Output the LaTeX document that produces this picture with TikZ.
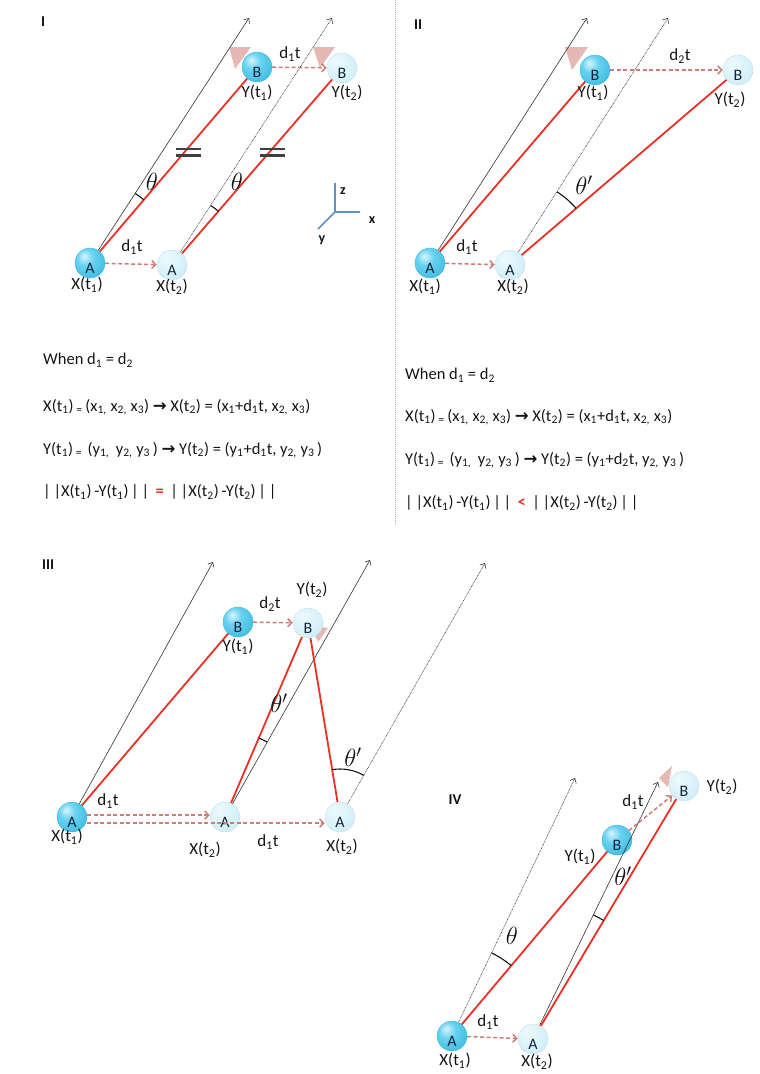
\documentclass[tikz,border=0pt]{standalone}
\usepackage{fontspec}
\setmainfont{Carlito}
\newfontfamily\djv{DejaVu Sans}
\usetikzlibrary{arrows.meta,angles}
\definecolor{redln}{RGB}{232,48,36}
\definecolor{dashpink}{RGB}{205,125,120}
\definecolor{tripink}{RGB}{226,172,166}
\definecolor{ballhi}{RGB}{215,245,252}
\definecolor{ballmid}{RGB}{105,210,240}
\definecolor{balledge}{RGB}{50,182,222}
\definecolor{balldark}{RGB}{28,145,190}
\definecolor{lbhi}{RGB}{238,250,253}
\definecolor{lbmid}{RGB}{205,237,248}
\definecolor{lbedge}{RGB}{180,225,242}
\definecolor{lbline}{RGB}{170,200,215}
\definecolor{axblue}{RGB}{95,145,195}
\definecolor{lettr}{RGB}{20,35,55}
\definecolor{txt}{RGB}{20,20,20}
\definecolor{arrowgray}{RGB}{50,50,50}
\pgfdeclareradialshading{solidball}{\pgfpoint{-10bp}{12bp}}{color(0bp)=(ballhi); color(14bp)=(ballmid); color(40bp)=(balledge); color(70bp)=(balldark)}
\pgfdeclareradialshading{lightball}{\pgfpoint{-10bp}{12bp}}{color(0bp)=(lbhi); color(35bp)=(lbmid); color(70bp)=(lbedge)}
\newcommand{\sbs}[1]{\textsubscript{#1}}
\newcommand{\rarr}{{\djv\bfseries →}}
\begin{document}
\begin{tikzpicture}[x=1pt,y=-1pt,
  solidb/.style={circle,minimum size=30pt,inner sep=0pt,shade,shading=solidball,draw=balledge,line width=0.3pt,
    label={[lettr lbl]center:#1}},
  lightb/.style={circle,minimum size=30pt,inner sep=0pt,shade,shading=lightball,draw=lbline,densely dotted,line width=0.5pt,
    label={[lettr lbl]center:#1}},
  lettr lbl/.style={yshift=-5pt,text=lettr,font=\fontsize{16}{16}\selectfont,inner sep=0pt},
  lbl/.style={text=txt,font=\fontsize{17}{19}\selectfont,inner sep=0pt},
  ptxt/.style={text=txt,font=\fontsize{16.5}{19}\selectfont,inner sep=0pt,anchor=west},
  plabel/.style={text=txt,font=\fontsize{15}{18}\selectfont\bfseries,inner sep=0pt},
  thlbl/.style={text=txt,font=\fontsize{24}{24}\selectfont,inner sep=0pt},
  redl/.style={draw=redln,line width=1.8pt},
  mvarrow/.style={draw=dashpink,line width=1.5pt,dash pattern=on 4pt off 2.5pt,-{Straight Barb[length=4pt,width=8pt]}},
  refarrow/.style={draw=arrowgray,line width=0.6pt,-{Straight Barb[length=4pt,width=7pt]}},
  refdot/.style={refarrow,dash pattern=on 0.8pt off 0.8pt},
  tri/.style={fill=tripink,opacity=0.85},
  ang/.style={draw=txt,line width=1.1pt},
  eqbar/.style={draw=black!75,line width=2.2pt},
  axis/.style={draw=axblue,line width=1.6pt},
  axlbl/.style={text=txt,font=\fontsize{14}{14}\selectfont\bfseries,inner sep=0pt}
]
\useasboundingbox (0,0) rectangle (760,1074);

% ---------------- separator
\coordinate (sepT) at (395,0);
\coordinate (sepB) at (395,525);
\draw[gray!60,line width=1pt,dash pattern=on 1pt off 1pt] (sepT) -- (sepB);

% ================= PANEL I
\node[plabel] (lI) at (43,22) {I};
\fill[tri] (229,47) -- (251,47) -- (235,69) -- cycle;
\fill[tri] (313,47) -- (335,47) -- (320,68) -- cycle;
\node[solidb=A] (a1) at (90,263) {};
\node[lightb=A] (a2) at (172,265) {};
\node[solidb=B] (b1) at (257,67) {};
\node[lightb=B] (b2) at (342,68) {};
\coordinate (ta) at (249,18);
\coordinate (tb) at (332,18);
\draw[refarrow] (a1) -- (ta);
\draw[refdot] (a2) -- (tb);
\draw[redl] (a1) -- (b1);
\draw[redl] (a2) -- (b2);
\draw[mvarrow] (a1) -- (a2);
\draw[mvarrow] (b1) -- (b2);
\node[lbl] (lxa1) at (87,285) {X(t\sbs{1})};
\node[lbl] (lxa2) at (172,287) {X(t\sbs{2})};
\node[lbl] (lyb1) at (257,93) {Y(t\sbs{1})};
\node[lbl] (lyb2) at (347,93) {Y(t\sbs{2})};
\node[lbl] (ld1) at (132,247) {d\sbs{1}t};
\node[lbl] (ld2) at (290,54) {d\sbs{1}t};
\pic[ang, angle radius=83pt] {angle=b1--a1--ta};
\pic[ang, angle radius=71pt] {angle=b2--a2--tb};
\node[thlbl] (th1) at (152,182) {$\theta$};
\node[thlbl] (th2) at (237,182) {$\theta$};
\draw[eqbar] (176,149) -- (201,149) (176,155.5) -- (201,155.5);
\draw[eqbar] (260,149) -- (285,149) (260,155.5) -- (285,155.5);
% axes
\coordinate (ao) at (335,212);
\coordinate (az) at (335,183);
\coordinate (ax) at (360,212);
\coordinate (ay) at (318,229);
\draw[axis] (az) -- (ao) -- (ax) (ao) -- (ay);
\node[axlbl] (lz) at (343,191) {z};
\node[axlbl] (lx) at (372,220) {x};
\node[axlbl] (ly) at (322,240) {y};

% ================= PANEL II
\node[plabel] (lII) at (418,25) {II};
\fill[tri] (565,47) -- (588,47) -- (572,70) -- cycle;
\node[solidb=A] (c1) at (430,263) {};
\node[lightb=A] (c2) at (510,265) {};
\node[solidb=B] (d1) at (595,70) {};
\node[lightb=B] (d2) at (738,70) {};
\coordinate (tc) at (587,18);
\coordinate (td) at (668,18);
\draw[refarrow] (c1) -- (tc);
\draw[refdot] (c2) -- (td);
\draw[redl] (c1) -- (d1);
\draw[redl] (c2) -- (d2);
\draw[mvarrow] (c1) -- (c2);
\draw[mvarrow] (d1) -- (d2);
\node[lbl] (lxc1) at (425,287) {X(t\sbs{1})};
\node[lbl] (lxc2) at (513,287) {X(t\sbs{2})};
\node[lbl] (lyd1) at (593,93) {Y(t\sbs{1})};
\node[lbl] (lyd2) at (730,100) {Y(t\sbs{2})};
\node[lbl] (ld3) at (467,247) {d\sbs{1}t};
\node[lbl] (ld4) at (680,56) {d\sbs{2}t};
\pic[ang, angle radius=87pt] {angle=d2--c2--td};
\node[thlbl] (th3) at (584,185) {$\theta'$};

% ================= TEXT BLOCKS
\node[ptxt] (t1) at (43,360) {When d\sbs{1} = d\sbs{2}};
\node[ptxt] (t2) at (43,407) {X(t\sbs{1})\,\textsubscript{=}\,(x\sbs{1,} x\sbs{2,} x\sbs{3}) \rarr{} X(t\sbs{2}) = (x\sbs{1}+d\sbs{1}t, x\sbs{2,} x\sbs{3})};
\node[ptxt] (t3) at (43,450) {Y(t\sbs{1})\,\textsubscript{=}\,\,(y\sbs{1,}\, y\sbs{2,} y\sbs{3}\,) \rarr{} Y(t\sbs{2}) = (y\sbs{1}+d\sbs{1}t, y\sbs{2,} y\sbs{3}\,)};
\node[ptxt] (t4) at (43,492) {|\,|X(t\sbs{1})\,-Y(t\sbs{1})\,|\,|\, \textcolor{redln}{\textbf{=}}\, |\,|X(t\sbs{2})\,-Y(t\sbs{2})\,|\,|};

\node[ptxt] (u1) at (405,375) {When d\sbs{1} = d\sbs{2}};
\node[ptxt] (u2) at (405,417) {X(t\sbs{1})\,\textsubscript{=}\,(x\sbs{1,} x\sbs{2,} x\sbs{3}) \rarr{} X(t\sbs{2}) = (x\sbs{1}+d\sbs{1}t, x\sbs{2,} x\sbs{3})};
\node[ptxt] (u3) at (405,460) {Y(t\sbs{1})\,\textsubscript{=}\,\,(y\sbs{1,}\, y\sbs{2,} y\sbs{3}\,) \rarr{} Y(t\sbs{2}) = (y\sbs{1}+d\sbs{2}t, y\sbs{2,} y\sbs{3}\,)};
\node[ptxt] (u4) at (405,503) {|\,|X(t\sbs{1})\,-Y(t\sbs{1})\,|\,|\, \textcolor{redln}{\textbf{<}}\, |\,|X(t\sbs{2})\,-Y(t\sbs{2})\,|\,|};

% ================= PANEL III
\node[plabel] (lIII) at (48,565) {III};
\fill[tri] (310,625) -- (328,628) -- (318,642) -- cycle;
\node[solidb=A] (e1) at (72,817) {};
\node[lightb=A] (e2) at (225,817) {};
\node[lightb=A] (e3) at (340,817) {};
\node[solidb=B] (f1) at (238,622) {};
\node[lightb=B] (f2) at (308,623) {};
\coordinate (te1) at (213,562);
\coordinate (te2) at (370,560);
\coordinate (te3) at (485,563);
\draw[refarrow] (e1) -- (te1);
\draw[refarrow] (e2) -- (te2);
\draw[refdot] (e3) -- (te3);
\draw[redl] (e1) -- (f1);
\draw[redl] (e2) -- (f2);
\draw[redl] (e3) -- (f2);
\draw[mvarrow] ([yshift=2pt]e1.east) -- ([yshift=2pt]e2.west);
\draw[mvarrow] ([yshift=-6pt]e1.east) -- ([yshift=-6pt]e3.west);
\draw[mvarrow] (f1) -- (f2);
\node[lbl] (lxe1) at (67,837) {X(t\sbs{1})};
\node[lbl] (lxe2) at (205,850) {X(t\sbs{2})};
\node[lbl] (lxe3) at (342,847) {X(t\sbs{2})};
\node[lbl] (lyf1) at (238,647) {Y(t\sbs{1})};
\node[lbl] (lyf2) at (312,590) {Y(t\sbs{2})};
\node[lbl] (ld5) at (108,801) {d\sbs{1}t};
\node[lbl] (ld6) at (268,842) {d\sbs{1}t};
\node[lbl] (ld7) at (270,604) {d\sbs{2}t};
\pic[ang, angle radius=86pt] {angle=te2--e2--f2};
\pic[ang, angle radius=48pt] {angle=te3--e3--f2};
\node[thlbl] (th4) at (279,703) {$\theta'$};
\node[thlbl] (th5) at (353,757) {$\theta'$};

% ================= PANEL IV
\node[plabel] (lIV) at (455,800) {IV};
\fill[tri] (659,778) -- (672,766) -- (668,787) -- cycle;
\node[solidb=A] (g1) at (452,1036) {};
\node[lightb=A] (g2) at (533,1039) {};
\node[solidb=B] (h1) at (617,840) {};
\node[lightb=B] (h2) at (684,786) {};
\coordinate (tg1) at (575,778);
\coordinate (tg2) at (658,782);
\draw[refdot] (g1) -- (tg1);
\draw[refarrow] (g2) -- (tg2);
\draw[redl] (g1) -- (h1);
\draw[redl] (g2) -- (h2);
\draw[mvarrow] (g1) -- (g2);
\draw[mvarrow] (h1) -- (h2);
\node[lbl] (lxg1) at (455,1061) {X(t\sbs{1})};
\node[lbl] (lxg2) at (537,1062) {X(t\sbs{2})};
\node[lbl] (lyh1) at (580,857) {Y(t\sbs{1})};
\node[lbl] (lyh2) at (722,787) {Y(t\sbs{2})};
\node[lbl] (ld8) at (488,1022) {d\sbs{1}t};
\node[lbl] (ld9) at (633,802) {d\sbs{1}t};
\pic[ang, angle radius=92pt] {angle=h1--g1--tg1};
\pic[ang, angle radius=138pt] {angle=h2--g2--tg2};
\node[thlbl] (th6) at (512,936) {$\theta$};
\node[thlbl] (th7) at (623,876) {$\theta'$};
\end{tikzpicture}
\end{document}
